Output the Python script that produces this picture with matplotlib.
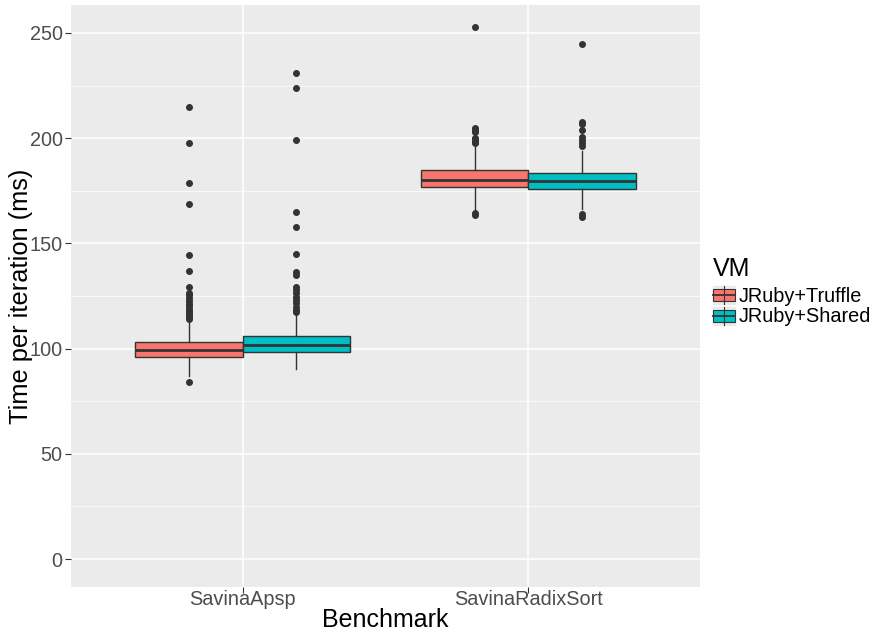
import matplotlib
matplotlib.use("Agg")
import matplotlib.pyplot as plt
from matplotlib.patches import Rectangle
from matplotlib.lines import Line2D

plt.rcParams["font.family"] = ["Liberation Sans", "DejaVu Sans"]

benchmarks = ["SavinaApsp", "SavinaRadixSort"]
vms = ["JRuby+Truffle", "JRuby+Shared"]
vm_colors = ["#F8766D", "#00BFC4"]

# box stats: (whislo, q1, med, q3, whishi)
apsp_truffle = (87.1, 95.8, 99.3, 103.3, 112.8)
apsp_shared = (90.1, 98.2, 101.5, 105.8, 116.0)
radix_truffle = (165.5, 176.9, 180.3, 184.7, 197.2)
radix_shared = (166.3, 176.0, 179.8, 183.6, 194.1)

apsp_truffle_out = [215.0, 197.7, 178.7, 168.9, 144.5, 137.0, 129.1, 126.5, 125.3,
                    124.0, 122.6, 121.3, 120.1, 119.0, 118.0, 117.0, 116.0, 115.0,
                    114.2, 84.3]
apsp_shared_out = [231.0, 223.9, 199.1, 164.9, 157.8, 145.1, 136.3, 135.0, 129.4,
                   128.0, 126.3, 124.7, 123.1, 121.5, 120.0, 118.5, 117.4]
radix_truffle_out = [252.7, 205.0, 204.5, 204.0, 203.4, 202.8, 200.0, 199.4, 198.8,
                     198.2, 197.8, 164.3, 163.5]
radix_shared_out = [244.9, 207.7, 206.7, 203.9, 200.4, 199.1, 197.8, 196.2,
                    163.8, 162.6]

series = {
    "JRuby+Truffle": [(apsp_truffle, apsp_truffle_out), (radix_truffle, radix_truffle_out)],
    "JRuby+Shared": [(apsp_shared, apsp_shared_out), (radix_shared, radix_shared_out)],
}

W, H = 878, 632
fig = plt.figure(figsize=(W / 100, H / 100), dpi=100)
ax = fig.add_axes([71 / W, 1 - 587 / H, (700 - 71) / W, (587 - 5) / H])
ax.set_facecolor("#EBEBEB")

box_w = 0.375
for k, vm in enumerate(vms):
    offset = (k - 0.5) * box_w
    stats = []
    positions = []
    for i, (s, outs) in enumerate(series[vm]):
        lo, q1, med, q3, hi = s
        stats.append(dict(whislo=lo, q1=q1, med=med, q3=q3, whishi=hi, fliers=outs))
        positions.append(i + 1 + offset)
    ax.bxp(stats, positions=positions, widths=box_w, patch_artist=True,
           showcaps=False,
           boxprops=dict(facecolor=vm_colors[k], edgecolor="#333333", linewidth=1.0),
           medianprops=dict(color="#333333", linewidth=2.0),
           whiskerprops=dict(color="#333333", linewidth=1.0),
           flierprops=dict(marker="o", markersize=4.0, markerfacecolor="#333333",
                           markeredgecolor="#333333", linestyle="none"),
           zorder=3)

ax.set_xlim(0.4, 2.6)
ax.set_ylim(-13.3, 263.3)
ax.set_xticks([1, 2], benchmarks)
ax.set_yticks([0, 50, 100, 150, 200, 250])
ax.set_yticks([25, 75, 125, 175, 225], minor=True)
ax.grid(which="major", color="white", linewidth=1.1, zorder=0)
ax.grid(which="minor", axis="y", color="white", linewidth=0.5, zorder=0)
ax.set_axisbelow(True)
for sp in ax.spines.values():
    sp.set_visible(False)
ax.tick_params(axis="both", which="major", length=4, width=0.8, color="#333333",
               labelsize=14.3, labelcolor="#4D4D4D")
ax.tick_params(axis="x", which="major", pad=-1.5)
ax.tick_params(axis="y", which="major", pad=2)
ax.tick_params(axis="both", which="minor", length=0)

ax.set_xlabel("Benchmark", fontsize=18)
ax.xaxis.label.set_verticalalignment("baseline")
ax.xaxis.set_label_coords(0.5, (587 - 627) / 582)
ax.set_ylabel("Time per iteration (ms)", fontsize=18.3)
ax.yaxis.set_label_coords((33 - 71) / 629, 0.5)

# legend drawn in pixel coords, ggplot style
def px(x, y):
    return x / W, 1 - y / H

fig.text(*px(713, 269), "VM", fontsize=18, va="center", ha="left")
for k, vm in enumerate(vms):
    top = 285 + k * 21
    kx0, kx1 = 712, 736
    x0, y0 = px(kx0, top + 20)
    fig.add_artist(Rectangle((x0, y0), (kx1 - kx0) / W, 20 / H, transform=fig.transFigure,
                             facecolor="#EBEBEB", edgecolor="white", linewidth=0.5))
    xc = (kx0 + kx1) / 2
    fig.add_artist(Line2D([xc / W, xc / W], [1 - (top + 1) / H, 1 - (top + 19) / H],
                          transform=fig.transFigure, color="#333333", linewidth=0.8))
    bx, by = px(kx0 + 1, top + 16)
    fig.add_artist(Rectangle((bx, by), (kx1 - kx0 - 2) / W, 12 / H, transform=fig.transFigure,
                             facecolor=vm_colors[k], edgecolor="#333333", linewidth=0.8))
    fig.add_artist(Line2D([(kx0 + 1) / W, (kx1 - 1) / W], [1 - (top + 10) / H] * 2,
                          transform=fig.transFigure, color="#333333", linewidth=1.3))
    fig.text(*px(739, top + 11), vm, fontsize=14.3, va="center", ha="left")

fig.savefig("out.png", dpi=100)
